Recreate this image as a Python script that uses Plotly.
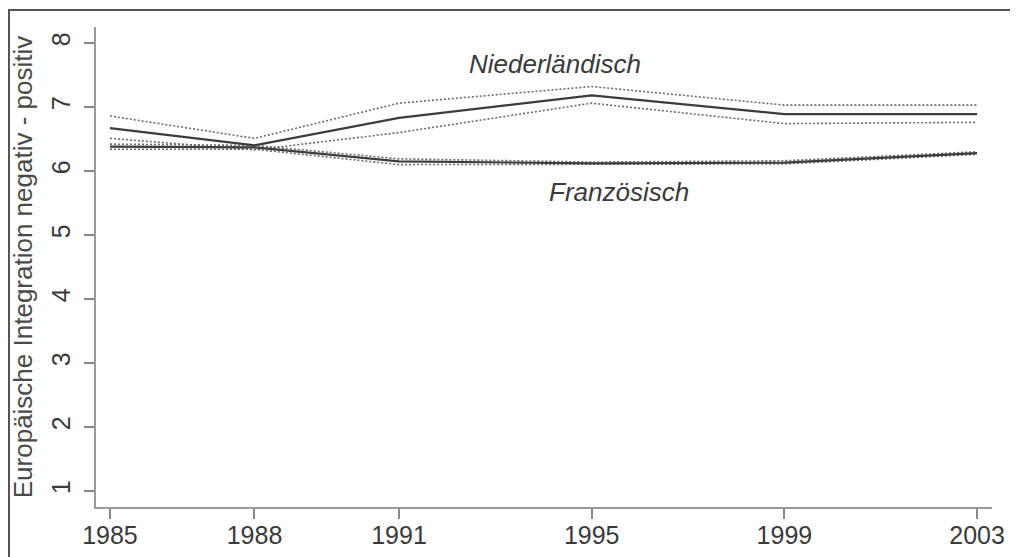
import plotly.graph_objects as go

years = [1985, 1988, 1991, 1995, 1999, 2003]

# Niederländisch: mean with confidence band
nl_mean = [6.67, 6.40, 6.83, 7.18, 6.89, 6.89]
nl_upper = [6.86, 6.51, 7.06, 7.32, 7.03, 7.03]
nl_lower = [6.51, 6.33, 6.60, 7.06, 6.74, 6.76]

# Französisch: mean with confidence band
fr_mean = [6.38, 6.37, 6.15, 6.12, 6.13, 6.28]
fr_upper = [6.42, 6.40, 6.19, 6.14, 6.16, 6.30]
fr_lower = [6.34, 6.34, 6.10, 6.10, 6.11, 6.26]

y_ticks = [1, 2, 3, 4, 5, 6, 7, 8]

font = "Liberation Sans, Arial, sans-serif"
solid = dict(color="#3c3c3c", width=2.2)
dotted = dict(color="#6a6a6a", width=1.6, dash="2px,2px")

fig = go.Figure()
for ys in [nl_upper, nl_lower, fr_upper, fr_lower]:
    fig.add_trace(go.Scatter(x=years, y=ys, mode="lines", line=dotted, showlegend=False))
for ys in [nl_mean, fr_mean]:
    fig.add_trace(go.Scatter(x=years, y=ys, mode="lines", line=solid, showlegend=False))

fig.add_annotation(x=1994.24, y=7.67, text="<i>Niederländisch</i>", showarrow=False,
                   font=dict(family=font, size=26, color="#3a3a3a"))
fig.add_annotation(x=1995.57, y=5.67, text="<i>Französisch</i>", showarrow=False,
                   font=dict(family=font, size=26, color="#3a3a3a"))

# outer frame
fig.add_shape(type="rect", xref="paper", yref="paper", x0=-0.0971, x1=1.0246, y0=-0.15, y1=1.0354,
              line=dict(color="#555", width=2), layer="below")

fig.update_xaxes(range=[1984.71, 2003.31], tickvals=years, ticks="outside", ticklen=10,
                 tickcolor="#888", tickwidth=1.5, showline=True, linecolor="#999", linewidth=2,
                 showgrid=False, zeroline=False, ticklabelstandoff=-5, automargin=False,
                 tickfont=dict(family=font, size=25, color="#3a3a3a"))
fig.update_yaxes(range=[0.75, 8.25], tickvals=y_ticks, ticks="outside", ticklen=10,
                 tickcolor="#888", tickwidth=1.5, showline=True, linecolor="#999", linewidth=2,
                 showgrid=False, zeroline=False, tickangle=-90, ticklabelstandoff=4,
                 automargin=False,
                 tickfont=dict(family=font, size=25, color="#3a3a3a"),
                 title=dict(text="Europäische Integration negativ - positiv", standoff=32,
                            font=dict(family=font, size=26, color="#4a4a4a")))

fig.update_layout(width=1010, height=549, margin=dict(l=88, r=26, t=19, b=50),
                  plot_bgcolor="white", paper_bgcolor="white", showlegend=False)

fig.write_html("out.html")
